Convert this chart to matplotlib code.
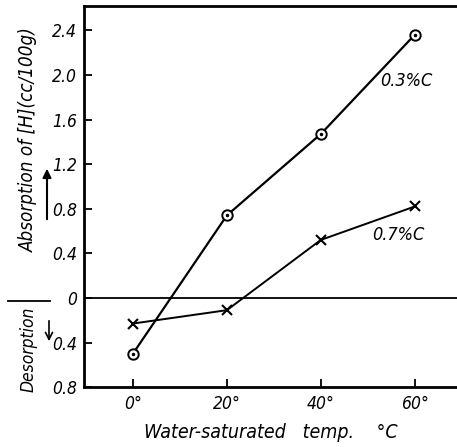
import matplotlib
matplotlib.use("Agg")
import matplotlib.pyplot as plt
from matplotlib.ticker import FuncFormatter
from matplotlib import font_manager

temps = [0, 20, 40, 60]
c03 = [-0.50, 0.74, 1.47, 2.36]
c07 = [-0.23, -0.11, 0.52, 0.82]
yticks = [-0.8, -0.4, 0, 0.4, 0.8, 1.2, 1.6, 2.0, 2.4]
xticklabels = ["0°", "20°", "40°", "60°"]

names = {f.name for f in font_manager.fontManager.ttflist}
fam = "Liberation Sans Narrow" if "Liberation Sans Narrow" in names else "DejaVu Sans"
plt.rcParams["font.family"] = [fam, "DejaVu Sans"]
plt.rcParams["font.style"] = "italic"
plt.rcParams["font.stretch"] = "condensed"

fig = plt.figure(figsize=(4.57, 4.47), dpi=100)
ax = fig.add_axes([0.184, 0.134, 0.816, 0.853])

ax.plot(temps, c03, color="black", lw=1.6, zorder=2)
ax.plot(temps, c03, "o", ms=7.5, mfc="white", mec="black", mew=1.4, zorder=3)
ax.plot(temps, c03, ".", ms=3, color="black", zorder=4)
ax.plot(temps, c07, color="black", lw=1.4, marker="x", ms=7.5, mew=1.5, zorder=2)

ax.set_xlim(-10.4, 69)
ax.set_ylim(-0.8, 2.62)
ax.axhline(0, color="black", lw=1.3, zorder=1)

ax.set_xticks(temps)
ax.set_xticklabels(xticklabels, fontsize=12.5, style="italic")
ax.set_yticks(yticks)
ax.yaxis.set_major_formatter(FuncFormatter(lambda v, p: "0" if abs(v) < 1e-9 else f"{abs(v):.1f}"))
ax.tick_params(axis="both", direction="in", length=6, width=1.3)
ax.tick_params(axis="y", pad=5, labelsize=12.5)
ax.tick_params(axis="x", pad=6, labelsize=12.5)

for s in ["left", "bottom", "top"]:
    ax.spines[s].set_linewidth(2)
ax.spines["right"].set_visible(False)

ax.text(52.6, 1.95, "0.3%C", fontsize=13, style="italic", va="center")
ax.text(50.9, 0.56, "0.7%C", fontsize=13, style="italic", va="center")

ax.set_xlabel("Water-saturated   temp.    °C", fontsize=14, style="italic", labelpad=7)

# y labels
fig.text(0.063, 0.687, "Absorption of [H](cc/100g)", rotation=90, ha="center", va="center",
         fontsize=13.5, style="italic")
fig.text(0.063, 0.219, "Desorption", rotation=90, ha="center", va="center",
         fontsize=12.5, style="italic")
fig.add_artist(plt.Line2D([0.017, 0.11], [1 - 301 / 447] * 2, color="black", lw=1.3,
                          transform=fig.transFigure))
fig.patches.append(matplotlib.patches.FancyArrowPatch(
    (47 / 457, 1 - 222 / 447), (47 / 457, 1 - 166 / 447), transform=fig.transFigure,
    arrowstyle="-|>,head_length=5,head_width=2.5", color="black", lw=1.5))
fig.patches.append(matplotlib.patches.FancyArrowPatch(
    (49 / 457, 1 - 318 / 447), (49 / 457, 1 - 344 / 447), transform=fig.transFigure,
    arrowstyle="->,head_length=5,head_width=2.5", color="black", lw=1.2))

fig.savefig("out.png", dpi=100)
